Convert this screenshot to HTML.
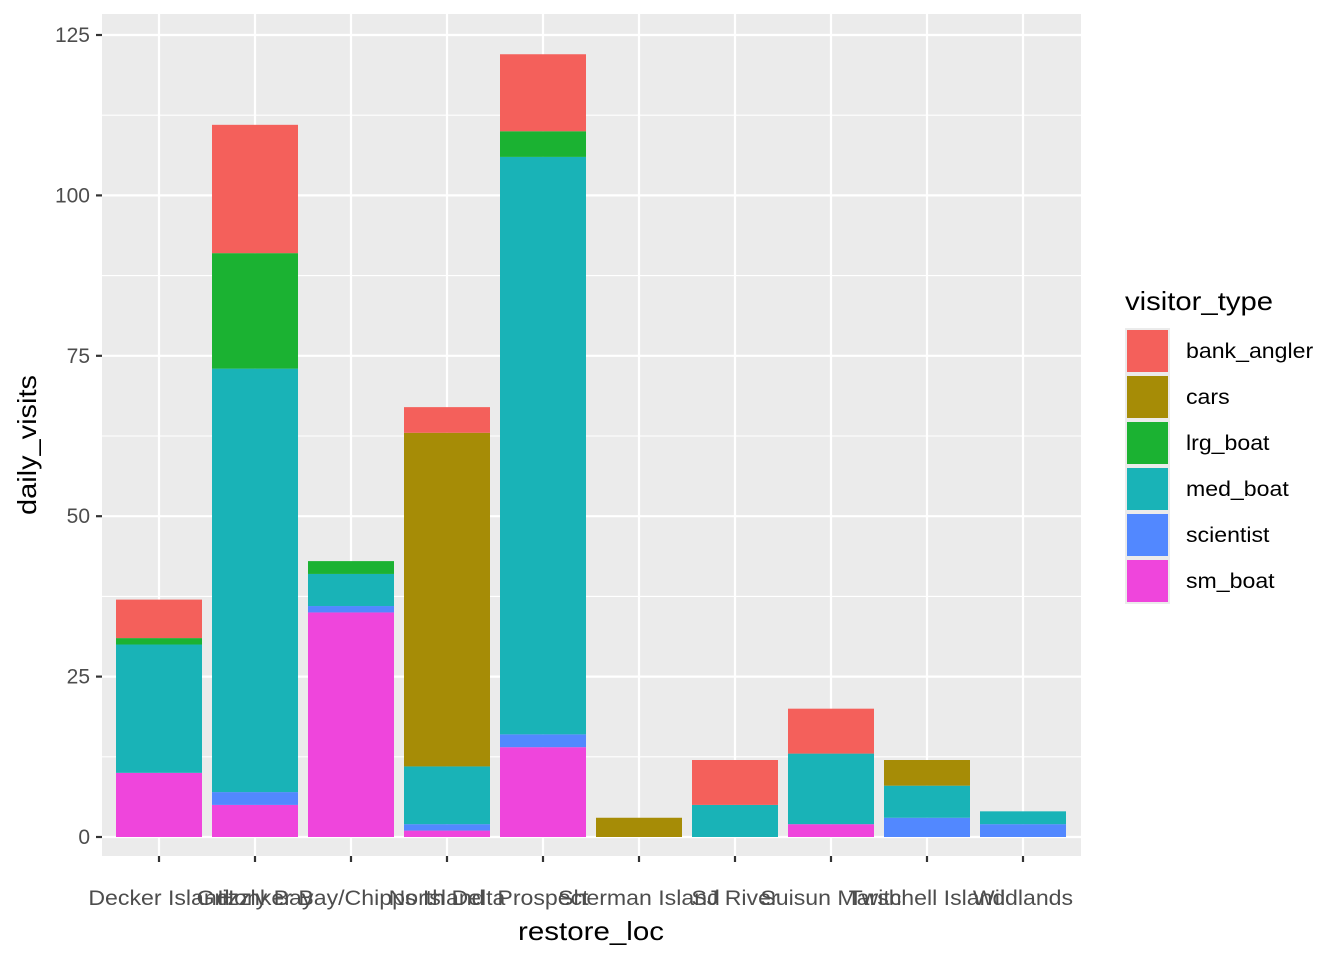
<!DOCTYPE html>
<html><head><meta charset="utf-8"><style>
html,body{margin:0;padding:0;background:#fff}
svg{display:block;font-family:"Liberation Sans",Arial,sans-serif}
</style></head><body>
<svg id="s" width="1344" height="960" xmlns="http://www.w3.org/2000/svg">
<rect x="0" y="0" width="1344" height="960" fill="#fff"/>
<rect x="102" y="14" width="979" height="842" fill="#EBEBEB"/>
<g id="grid"></g>
<g id="bars"></g>
<g id="axes" font-size="21" fill="#4D4D4D"></g>
<text x="591" y="940" font-size="26" text-anchor="middle" fill="#000" textLength="146" lengthAdjust="spacingAndGlyphs">restore_loc</text>
<text transform="translate(36,445) rotate(-90)" font-size="26" text-anchor="middle" fill="#000" textLength="140" lengthAdjust="spacingAndGlyphs">daily_visits</text>
<text x="1125" y="310" font-size="26" fill="#000" textLength="148" lengthAdjust="spacingAndGlyphs">visitor_type</text>
<g id="leg"></g>
</svg>
<script>
const NS="http://www.w3.org/2000/svg";
function el(p,t,a,txt){const e=document.createElementNS(NS,t);for(const k in a)e.setAttribute(k,a[k]);if(txt!==undefined)e.textContent=txt;document.getElementById(p).appendChild(e);return e;}
const y0=837,k=(837-35)/125;
const Y=v=>y0-v*k;
for(let v=12.5;v<=125;v+=25)el("grid","line",{x1:102,x2:1081,y1:Y(v),y2:Y(v),stroke:"#fff","stroke-width":1.1});
for(let v=0;v<=125;v+=25){el("grid","line",{x1:102,x2:1081,y1:Y(v),y2:Y(v),stroke:"#fff","stroke-width":2.2});
 el("axes","line",{x1:96,x2:102,y1:Y(v),y2:Y(v),stroke:"#333","stroke-width":2.2});
 el("axes","text",{x:90,y:Y(v)+7,"text-anchor":"end"},String(v));}
const names=["Decker Island","Grizzly Bay","Honker Bay/Chipps Island","North Delta","Prospect","Sherman Island","SJ River","Suisun Marsh","Twitchell Island","Wildlands"];
const Cc={bank:"#F4605B",cars:"#A68C06",lrg:"#1BB232",med:"#19B3B7",sci:"#5288FF",sm:"#EF45DC"};
const data=[
[["sm",10],["med",30],["lrg",31],["bank",37]],
[["sm",5],["sci",7],["med",73],["lrg",91],["bank",111]],
[["sm",35],["sci",36],["med",41],["lrg",43]],
[["sm",1],["sci",2],["med",11],["cars",63],["bank",67]],
[["sm",14],["sci",16],["med",106],["lrg",110],["bank",122]],
[["cars",3]],
[["med",5],["bank",12]],
[["sm",2],["med",13],["bank",20]],
[["sci",3],["med",8],["cars",12]],
[["sci",2],["med",4]]];
names.forEach((n,i)=>{const cx=159+96*i;
 el("grid","line",{x1:cx,x2:cx,y1:14,y2:856,stroke:"#fff","stroke-width":2.2});
 el("axes","line",{x1:cx,x2:cx,y1:856,y2:862,stroke:"#333","stroke-width":2.2});
 const t=el("axes","text",{x:cx,y:905,"text-anchor":"middle"},n);
 const w=t.getComputedTextLength();t.setAttribute("textLength",w*1.1);t.setAttribute("lengthAdjust","spacingAndGlyphs");
 let prev=0;data[i].forEach(([tp,v])=>{el("bars","rect",{x:cx-43,width:86,y:Y(v),height:Y(prev)-Y(v),fill:Cc[tp]});prev=v;});
});
const lk=[["bank","bank_angler"],["cars","cars"],["lrg","lrg_boat"],["med","med_boat"],["sci","scientist"],["sm","sm_boat"]];
lk.forEach(([tp,l],i)=>{const y=328+46*i;
 el("leg","rect",{x:1125,y:y,width:45,height:46,fill:"#EBEBEB"});
 el("leg","rect",{x:1127,y:y+2,width:41,height:42,fill:Cc[tp]});
 const t=el("leg","text",{x:1186,y:y+30,"font-size":21,fill:"#000"},l);
 const w=t.getComputedTextLength();t.setAttribute("textLength",w*1.1);t.setAttribute("lengthAdjust","spacingAndGlyphs");});
</script>
</body></html>
